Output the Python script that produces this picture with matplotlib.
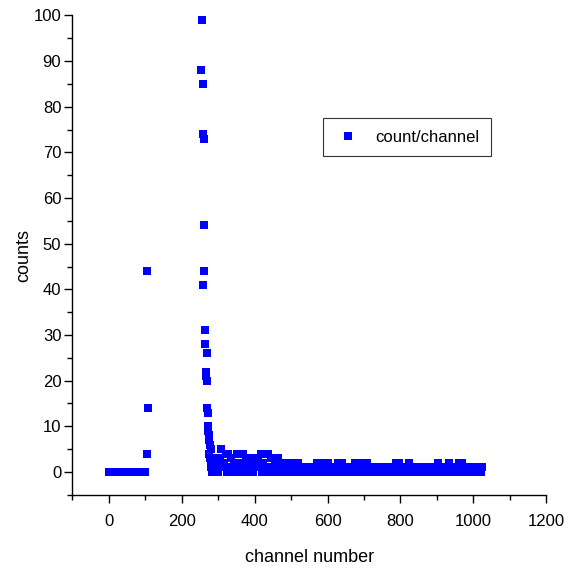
import numpy as np
import matplotlib
matplotlib.use("Agg")
import matplotlib.pyplot as plt
from matplotlib.ticker import MultipleLocator

plt.rcParams["font.family"] = ["Liberation Sans Narrow", "Liberation Sans", "DejaVu Sans"]

# flat low-energy part (channels 0..104, step 4)
low_start = 0
low_counts = "00000000000000000000000000"

# small spike near channel 105
spike_ch = [104, 105, 106]
spike_counts = [4, 44, 14]

# main peak
peak_ch = [253, 255, 257, 258, 259, 260, 261, 262, 263, 264, 265, 266, 267, 268,
           269, 270, 271, 272, 273, 274, 275, 276, 277, 278, 279, 280, 281, 282,
           283, 284, 285, 286]
peak_counts = [88, 99, 41, 85, 74, 73, 54, 44, 31, 28, 31, 22, 21, 20,
               26, 14, 13, 9, 10, 7, 4, 8, 6, 3, 5, 2, 1, 3, 0, 2, 1, 0]

# tail, one digit per 4 channels, (start channel, counts)
tail_segments = [
    (288, "3120"),
    (304, "35124"),
    (324, "041"),
    (336, "3021"),
    (352, "40424"),
    (372, "1302310323"),
    (412, "140241"),
    (436, "4031320"),
    (464, "3"),
    (468, "1202102120120210"),
    (532, "0101010110"),
    (572, "20212012"),
    (604, "010101"),
    (628, "2102"),
    (644, "01011010"),
    (676, "2120121021"),
    (716, "010110101101010110"),
    (788, "202"),
    (800, "101010"),
    (824, "21"),
    (832, "010110100001010110"),
    (904, "21"),
    (912, "01010"),
    (932, "2"),
    (936, "010101"),
    (960, "212"),
    (972, "0101101010110"),
    (1023, "1"),
]


def expand(start, digits, step=4):
    ch = start + step * np.arange(len(digits))
    return ch, np.array([int(d) for d in digits])


xs, ys = [], []
c, v = expand(low_start, low_counts)
xs.append(c)
ys.append(v)
xs.append(np.array(spike_ch))
ys.append(np.array(spike_counts))
xs.append(np.array(peak_ch))
ys.append(np.array(peak_counts))
for start, digits in tail_segments:
    c, v = expand(start, digits)
    xs.append(c)
    ys.append(v)
channel = np.concatenate(xs)
counts = np.concatenate(ys)

fig = plt.figure(figsize=(5.75, 5.74), dpi=100)
ax = fig.add_axes([0.126, 0.138, 0.824, 0.835])

ax.plot(channel, counts, linestyle="none", marker="s", markersize=6.4,
        color="#0000ff", markeredgewidth=0, label="count/channel")

ax.set_xlim(-100, 1200)
ax.set_ylim(-5, 100)
ax.xaxis.set_major_locator(MultipleLocator(200))
ax.xaxis.set_minor_locator(MultipleLocator(100))
ax.yaxis.set_major_locator(MultipleLocator(10))
ax.yaxis.set_minor_locator(MultipleLocator(5))

for s in ["top", "right"]:
    ax.spines[s].set_visible(False)
for s in ["left", "bottom"]:
    ax.spines[s].set_linewidth(1.0)

ax.tick_params(which="major", direction="out", length=6, width=1, labelsize=12)
ax.tick_params(which="minor", direction="out", length=3.5, width=1)
ax.tick_params(axis="x", pad=8)
ax.tick_params(axis="y", pad=2)

ax.set_xlabel("channel number", fontsize=13, labelpad=14)
ax.set_ylabel("counts", fontsize=13, labelpad=1)

leg = ax.legend(loc="upper left", bbox_to_anchor=(0.529, 0.786), fancybox=False,
                edgecolor="black", fontsize=12, handlelength=1.6,
                handletextpad=0.8, borderpad=0.7, borderaxespad=0)
leg.get_frame().set_linewidth(0.8)

fig.savefig("out.png", dpi=100)
